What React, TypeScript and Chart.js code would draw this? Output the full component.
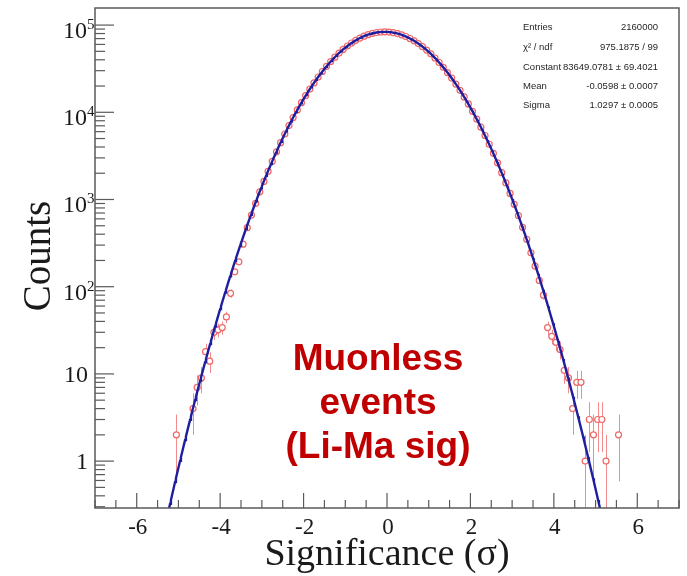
import React, { useEffect, useRef } from 'react';
import { Chart, registerables } from 'chart.js';

Chart.register(...registerables);

// Histogram of significances: bin centres (bin width 0.1) and entries per bin.
const binCenters = [
  -5.05, -4.65, -4.55, -4.45, -4.35, -4.25, -4.15, -4.05, -3.95, -3.85,
  -3.75, -3.65, -3.55, -3.45, -3.35, -3.25, -3.15, -3.05, -2.95, -2.85,
  -2.75, -2.65, -2.55, -2.45, -2.35, -2.25, -2.15, -2.05, -1.95, -1.85,
  -1.75, -1.65, -1.55, -1.45, -1.35, -1.25, -1.15, -1.05, -0.95, -0.85,
  -0.75, -0.65, -0.55, -0.45, -0.35, -0.25, -0.15, -0.05, 0.05, 0.15,
  0.25, 0.35, 0.45, 0.55, 0.65, 0.75, 0.85, 0.95, 1.05, 1.15,
  1.25, 1.35, 1.45, 1.55, 1.65, 1.75, 1.85, 1.95, 2.05, 2.15,
  2.25, 2.35, 2.45, 2.55, 2.65, 2.75, 2.85, 2.95, 3.05, 3.15,
  3.25, 3.35, 3.45, 3.55, 3.65, 3.75, 3.85, 3.95, 4.05, 4.15,
  4.25, 4.35, 4.45, 4.55, 4.65, 4.75, 4.85, 4.95, 5.05, 5.15,
  5.25, 5.55,
];

const counts = [
  2, 4, 7, 9, 18, 14, 30, 32, 34, 45,
  84, 148, 193, 307, 475, 662, 902, 1225, 1610, 2105,
  2740, 3520, 4480, 5640, 7040, 8700, 10640, 12900, 15500, 18440,
  21730, 25380, 29360, 33630, 38170, 42900, 47780, 52690, 57580, 62330,
  66830, 70990, 74700, 77860, 80400, 82240, 83330, 83640, 83170, 81920,
  79940, 77270, 73990, 70180, 65950, 61390, 56610, 51710, 46790, 41950,
  37250, 32770, 28560, 24650, 21080, 17860, 14990, 12460, 10260, 8370,
  6770, 5420, 4300, 3380, 2630, 2030, 1550, 1175, 880, 655,
  480, 350, 245, 172, 118, 80, 34, 27, 23, 19,
  11, 9, 4, 8, 8, 1, 3, 2, 3, 3,
  1, 2,
];

// Gaussian fit result
const fitConstant = 83649.0781;
const fitMean = -0.0598;
const fitSigma = 1.0297;
const fitFrom = -5.4;
const fitTo = 5.3;

const statsRows: [string, string][] = [
  ['Entries', '2160000'],
  ['\u03c7\u00b2 / ndf', '975.1875 / 99'],
  ['Constant', '83649.0781 \u00b1 69.4021'],
  ['Mean', '-0.0598 \u00b1 0.0007'],
  ['Sigma', '1.0297 \u00b1 0.0005'],
];

const xTickValues = [-6, -4, -2, 0, 2, 4, 6];
const yTickLabels: { value: number; base: string; exp?: string }[] = [
  { value: 1, base: '1' },
  { value: 10, base: '10' },
  { value: 100, base: '10', exp: '2' },
  { value: 1000, base: '10', exp: '3' },
  { value: 10000, base: '10', exp: '4' },
  { value: 100000, base: '10', exp: '5' },
];

const annotationLines = ['Muonless', 'events', '(Li-Ma sig)'];

const X_MIN = -7;
const X_MAX = 7;
const Y_MIN = 0.29;
const Y_MAX = 1.57e5;

const pointColor = '#ee6666';
const errorColor = '#f08c8c';
const fitColor = '#1e1e9e';
const axisColor = '#5a5a5a';
const serif = '"Liberation Serif", "Times New Roman", serif';
const sans = '"Liberation Sans", Arial, sans-serif';

function gaussian(x: number): number {
  const u = (x - fitMean) / fitSigma;
  return fitConstant * Math.exp(-0.5 * u * u);
}

const errorBarsPlugin = {
  id: 'errorBars',
  beforeDatasetsDraw(chart: any) {
    const { ctx, chartArea, scales } = chart;
    const xs = scales.x;
    const ys = scales.y;
    ctx.save();
    ctx.beginPath();
    ctx.rect(chartArea.left, chartArea.top, chartArea.right - chartArea.left, chartArea.bottom - chartArea.top);
    ctx.clip();
    ctx.strokeStyle = errorColor;
    ctx.lineWidth = 1;
    binCenters.forEach((x, i) => {
      const v = counts[i];
      const err = Math.sqrt(v);
      const px = Math.round(xs.getPixelForValue(x)) + 0.5;
      const top = ys.getPixelForValue(v + err);
      const lowVal = v - err;
      const bottom = lowVal > 0 ? ys.getPixelForValue(lowVal) : chartArea.bottom;
      ctx.beginPath();
      ctx.moveTo(px, top);
      ctx.lineTo(px, bottom);
      ctx.stroke();
    });
    ctx.restore();
  },
};

const frameAxesPlugin = {
  id: 'frameAxes',
  afterDraw(chart: any) {
    const { ctx, chartArea, scales } = chart;
    const xs = scales.x;
    const ys = scales.y;
    const { left, right, top, bottom } = chartArea;
    ctx.save();

    // frame
    ctx.strokeStyle = axisColor;
    ctx.lineWidth = 1.5;
    ctx.strokeRect(left, top, right - left, bottom - top);

    // x ticks (inside the frame, pointing up)
    ctx.lineWidth = 1.2;
    for (let k = X_MIN * 2; k <= X_MAX * 2; k++) {
      const v = k / 2;
      const px = xs.getPixelForValue(v);
      const len = k % 4 === 0 ? 15 : 8;
      ctx.beginPath();
      ctx.moveTo(px, bottom);
      ctx.lineTo(px, bottom - len);
      ctx.stroke();
    }

    // y ticks (inside the frame, pointing right)
    for (let e = -1; e <= 5; e++) {
      for (let m = 1; m <= 9; m++) {
        const v = m * Math.pow(10, e);
        if (v < Y_MIN || v > Y_MAX) continue;
        const py = ys.getPixelForValue(v);
        const len = m === 1 ? 19 : 10;
        ctx.beginPath();
        ctx.moveTo(left, py);
        ctx.lineTo(left + len, py);
        ctx.stroke();
      }
    }

    // x tick labels
    ctx.fillStyle = '#1a1a1a';
    ctx.font = `23px ${serif}`;
    ctx.textAlign = 'center';
    ctx.textBaseline = 'alphabetic';
    xTickValues.forEach((v) => {
      ctx.fillText(String(v), xs.getPixelForValue(v) + 1, 534);
    });

    // y tick labels
    yTickLabels.forEach((t) => {
      const py = ys.getPixelForValue(t.value);
      if (t.exp) {
        ctx.font = `24px ${serif}`;
        ctx.textAlign = 'right';
        ctx.fillText(t.base, 87, py + 13);
        ctx.font = `15px ${serif}`;
        ctx.textAlign = 'left';
        ctx.fillText(t.exp, 87, py + 4);
      } else {
        ctx.font = `24px ${serif}`;
        ctx.textAlign = 'right';
        ctx.fillText(t.base, 88, py + 8);
      }
    });

    // axis titles
    ctx.font = `38px ${serif}`;
    ctx.textAlign = 'center';
    ctx.fillText('Significance (\u03c3)', 387, 565);

    ctx.save();
    ctx.translate(50, 256);
    ctx.rotate(-Math.PI / 2);
    ctx.font = `39px ${serif}`;
    ctx.fillText('Counts', 0, 0);
    ctx.restore();

    // fit statistics
    ctx.font = `9.5px ${sans}`;
    ctx.fillStyle = '#262626';
    const rowBase = [29.5, 50, 69.5, 88.5, 107.5];
    statsRows.forEach(([name, value], i) => {
      ctx.textAlign = 'left';
      ctx.fillText(name, 523, rowBase[i]);
      ctx.textAlign = 'right';
      ctx.fillText(value, 658, rowBase[i]);
    });

    // annotation
    ctx.font = `bold 37px ${sans}`;
    ctx.fillStyle = '#c00000';
    ctx.textAlign = 'center';
    const lineBase = [370, 414, 458];
    annotationLines.forEach((line, i) => {
      ctx.fillText(line, 378, lineBase[i]);
    });

    ctx.restore();
  },
};

export default function App() {
  const canvasRef = useRef<HTMLCanvasElement | null>(null);

  useEffect(() => {
    const canvas = canvasRef.current;
    if (!canvas) return;

    const points = binCenters.map((x, i) => ({ x, y: counts[i] }));
    const curve: { x: number; y: number }[] = [];
    const steps = 535;
    for (let i = 0; i <= steps; i++) {
      const x = fitFrom + ((fitTo - fitFrom) * i) / steps;
      curve.push({ x, y: gaussian(x) });
    }

    const chart = new Chart(canvas, {
      type: 'scatter',
      data: {
        datasets: [
          {
            label: 'fit',
            data: curve,
            showLine: true,
            borderColor: fitColor,
            borderWidth: 2.4,
            pointRadius: 0,
            tension: 0,
            order: 0,
          } as any,
          {
            label: 'data',
            data: points,
            pointStyle: 'circle',
            pointRadius: 3,
            borderWidth: 1.2,
            borderColor: pointColor,
            backgroundColor: '#ffffff',
            order: 1,
          } as any,
        ],
      },
      options: {
        responsive: false,
        animation: false,
        layout: { padding: { left: 95, right: 8, top: 8, bottom: 68 } },
        plugins: {
          legend: { display: false },
          tooltip: { enabled: false },
          title: { display: false },
        },
        scales: {
          x: { type: 'linear', min: X_MIN, max: X_MAX, display: false },
          y: { type: 'logarithmic', min: Y_MIN, max: Y_MAX, display: false },
        },
      },
      plugins: [errorBarsPlugin, frameAxesPlugin],
    });

    return () => chart.destroy();
  }, []);

  return (
    <div style={{ position: 'fixed', left: 0, top: 0, width: 687, height: 576, background: '#ffffff' }}>
      <canvas ref={canvasRef} width={687} height={576} style={{ width: 687, height: 576, display: 'block' }} />
    </div>
  );
}
